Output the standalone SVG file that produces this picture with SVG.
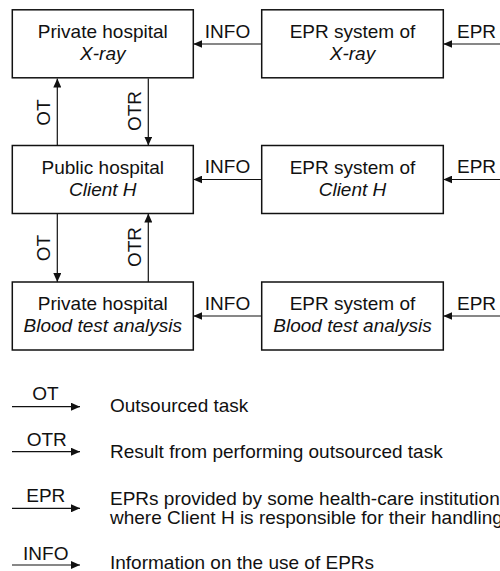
<svg xmlns="http://www.w3.org/2000/svg" width="500" height="571" viewBox="0 0 500 571">
  <style>
    text { font-family: "Liberation Sans", Arial, sans-serif; font-size: 19px; fill: #111; }
    .c { text-anchor: middle; }
    .i { font-style: italic; }
    .box { fill: #fff; stroke: #111; stroke-width: 1.5; }
    .ln { fill: none; stroke: #111; stroke-width: 1.2; }
  </style>
  <defs>
    <marker id="arrow" viewBox="0 0 9 8" refX="9" refY="4" markerWidth="9" markerHeight="8" markerUnits="userSpaceOnUse" orient="auto">
      <path d="M0,0 L9,4 L0,8 Z" fill="#111"/>
    </marker>
  </defs>

  <rect width="500" height="571" fill="#fff"/>

  <!-- hospitals (left column) -->
  <g id="xray-hospital">
    <rect class="box" x="12.3" y="9.8" width="181" height="68"/>
    <text class="c" x="102.8" y="38">Private hospital</text>
    <text class="c i" x="102.8" y="59.5">X-ray</text>
  </g>
  <g id="client-h-hospital">
    <rect class="box" x="12.3" y="145.5" width="181" height="68"/>
    <text class="c" x="102.8" y="174">Public hospital</text>
    <text class="c i" x="102.8" y="195.5">Client H</text>
  </g>
  <g id="blood-test-hospital">
    <rect class="box" x="12.3" y="282" width="181" height="68"/>
    <text class="c" x="102.8" y="310">Private hospital</text>
    <text class="c i" x="102.8" y="331.5">Blood test analysis</text>
  </g>

  <!-- EPR systems (right column) -->
  <g id="xray-epr-system">
    <rect class="box" x="261.7" y="9.8" width="181.6" height="68"/>
    <text class="c" x="352.5" y="38">EPR system of</text>
    <text class="c i" x="352.5" y="59.5">X-ray</text>
  </g>
  <g id="client-h-epr-system">
    <rect class="box" x="261.7" y="145.5" width="181.6" height="68"/>
    <text class="c" x="352.5" y="174">EPR system of</text>
    <text class="c i" x="352.5" y="195.5">Client H</text>
  </g>
  <g id="blood-test-epr-system">
    <rect class="box" x="261.7" y="282" width="181.6" height="68"/>
    <text class="c" x="352.5" y="310">EPR system of</text>
    <text class="c i" x="352.5" y="331.5">Blood test analysis</text>
  </g>

  <!-- connectors -->
  <g id="connectors">
    <!-- INFO flows -->
    <line class="ln" x1="261.7" y1="44" x2="193.3" y2="44" marker-end="url(#arrow)"/>
    <line class="ln" x1="261.7" y1="179.5" x2="193.3" y2="179.5" marker-end="url(#arrow)"/>
    <line class="ln" x1="261.7" y1="316" x2="193.3" y2="316" marker-end="url(#arrow)"/>
    <text class="c" x="227.5" y="37.5">INFO</text>
    <text class="c" x="227.5" y="173">INFO</text>
    <text class="c" x="227.5" y="309.5">INFO</text>

    <!-- EPR flows -->
    <line class="ln" x1="500" y1="44" x2="443.3" y2="44" marker-end="url(#arrow)"/>
    <line class="ln" x1="500" y1="179.5" x2="443.3" y2="179.5" marker-end="url(#arrow)"/>
    <line class="ln" x1="500" y1="316" x2="443.3" y2="316" marker-end="url(#arrow)"/>
    <text class="c" x="476.5" y="37.5">EPR</text>
    <text class="c" x="476.5" y="173">EPR</text>
    <text class="c" x="476.5" y="309.5">EPR</text>

    <!-- Client H <-> X-ray -->
    <line class="ln" x1="57.3" y1="145.5" x2="57.3" y2="78.5" marker-end="url(#arrow)"/>
    <line class="ln" x1="148.3" y1="78.5" x2="148.3" y2="145.5" marker-end="url(#arrow)"/>
    <text class="c" transform="translate(49.5,112.5) rotate(-90)">OT</text>
    <text class="c" transform="translate(140.7,111) rotate(-90)">OTR</text>

    <!-- Client H <-> Blood test analysis -->
    <line class="ln" x1="57.3" y1="213.5" x2="57.3" y2="282" marker-end="url(#arrow)"/>
    <line class="ln" x1="148.3" y1="282" x2="148.3" y2="213.5" marker-end="url(#arrow)"/>
    <text class="c" transform="translate(49.5,248) rotate(-90)">OT</text>
    <text class="c" transform="translate(140.7,247) rotate(-90)">OTR</text>
  </g>

  <!-- legend -->
  <g id="legend">
    <line class="ln" x1="12" y1="406.7" x2="80" y2="406.7" marker-end="url(#arrow)"/>
    <text class="c" x="45.5" y="400">OT</text>
    <text x="110" y="411.7">Outsourced task</text>

    <line class="ln" x1="12" y1="451.7" x2="80" y2="451.7" marker-end="url(#arrow)"/>
    <text class="c" x="46.7" y="446">OTR</text>
    <text x="110" y="458">Result from performing outsourced task</text>

    <line class="ln" x1="12" y1="508.3" x2="80" y2="508.3" marker-end="url(#arrow)"/>
    <text class="c" x="45.8" y="501.7">EPR</text>
    <text x="110" y="504.5">EPRs provided by some health-care institution</text>
    <text x="110" y="523.5">where Client H is responsible for their handling</text>

    <line class="ln" x1="12" y1="565" x2="80" y2="565" marker-end="url(#arrow)"/>
    <text class="c" x="45.8" y="560">INFO</text>
    <text x="110" y="569">Information on the use of EPRs</text>
  </g>
</svg>
